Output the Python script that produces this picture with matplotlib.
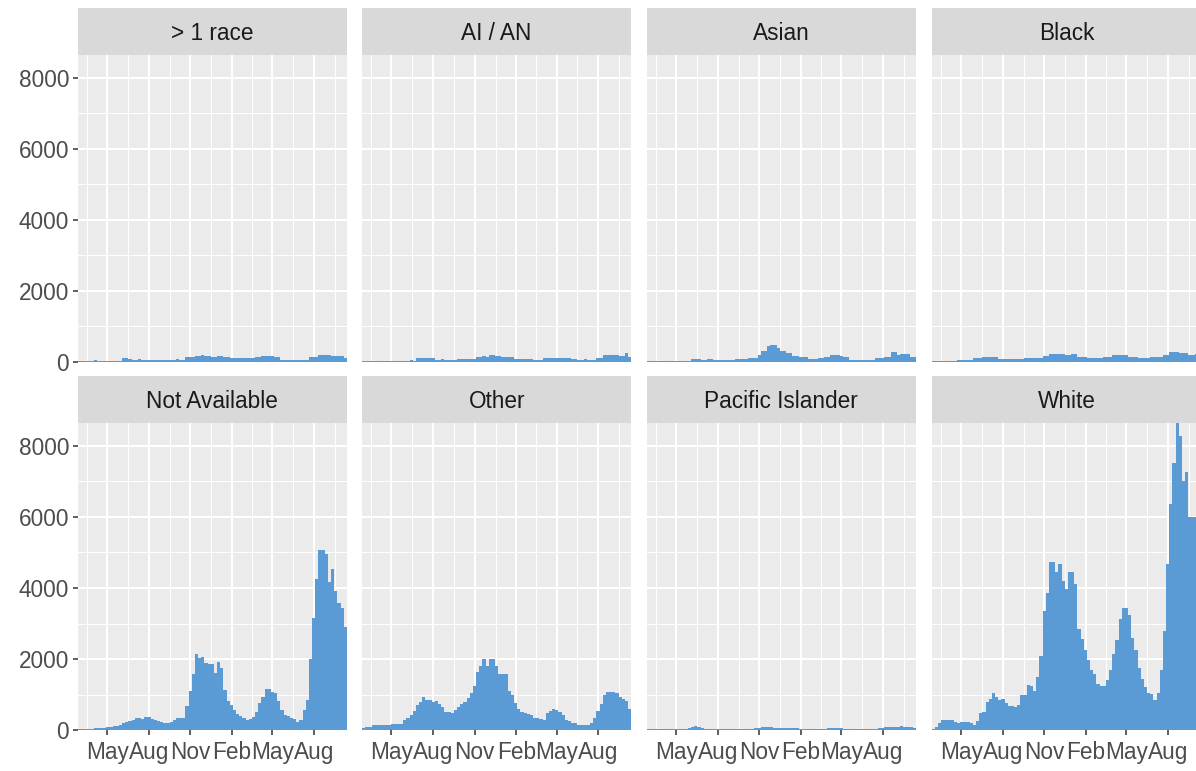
import matplotlib
matplotlib.use("Agg")
import matplotlib.pyplot as plt
import matplotlib.dates as mdates
import pandas as pd

# weekly counts by race, one bar per week starting 2020-02-26
week_start = pd.date_range("2020-02-26", periods=85, freq="7D")

groups = ["> 1 race", "AI / AN", "Asian", "Black",
          "Not Available", "Other", "Pacific Islander", "White"]

multi_race = [20, 20, 25, 20, 25, 50, 30, 30, 35, 30, 30, 35, 30, 30, 110, 110, 75, 70, 70,
              75, 70, 70, 65, 50, 50, 55, 50, 50, 55, 50, 70, 75, 70, 70, 130, 130, 140,
              180, 180, 210, 180, 180, 150, 150, 180, 180, 130, 130, 100, 100, 105, 100,
              100, 100, 105, 100, 130, 130, 170, 170, 175, 170, 130, 130, 70, 70, 70, 50,
              50, 50, 55, 50, 50, 130, 130, 135, 200, 200, 205, 200, 170, 170, 180, 180, 100]

ai_an = [20, 20, 20, 20, 25, 20, 20, 20, 20, 25, 20, 20, 20, 40, 40, 45, 40, 100, 100, 105,
         120, 120, 115, 70, 70, 75, 70, 70, 70, 70, 90, 90, 95, 90, 90, 90, 150, 150, 155,
         150, 200, 200, 170, 170, 130, 130, 135, 130, 90, 90, 95, 90, 90, 90, 70, 70, 70,
         100, 100, 105, 100, 110, 110, 115, 110, 110, 90, 90, 70, 70, 75, 70, 70, 70, 110,
         110, 200, 200, 205, 200, 200, 170, 170, 250, 150]

asian = [30, 30, 30, 35, 30, 30, 30, 35, 30, 30, 20, 20, 20, 20, 80, 80, 85, 60, 60, 90,
         90, 60, 60, 60, 65, 60, 60, 60, 90, 90, 95, 90, 100, 100, 100, 200, 300, 300,
         455, 485, 485, 405, 300, 300, 250, 250, 180, 180, 130, 130, 130, 80, 80, 80,
         100, 100, 150, 150, 200, 200, 205, 170, 130, 130, 70, 70, 50, 50, 50, 55, 50,
         50, 100, 100, 100, 150, 150, 270, 270, 200, 220, 220, 230, 150, 150]

black = [30, 30, 30, 35, 30, 30, 30, 30, 50, 50, 55, 50, 50, 100, 100, 100, 130, 130, 135,
         130, 130, 90, 90, 95, 90, 90, 90, 95, 90, 110, 110, 115, 110, 110, 110, 170, 170,
         230, 230, 235, 230, 230, 200, 200, 220, 220, 150, 150, 150, 100, 100, 105, 100,
         100, 130, 130, 130, 200, 200, 205, 200, 200, 150, 150, 150, 100, 100, 105, 100,
         130, 130, 135, 130, 200, 200, 270, 270, 270, 250, 250, 250, 210, 210, 215, 210]

not_available = [40, 40, 40, 45, 45, 50, 55, 60, 70, 90, 100, 110, 130, 150, 190, 220, 260,
                 290, 350, 330, 320, 360, 370, 310, 300, 270, 220, 200, 210, 240, 290, 340,
                 350, 330, 670, 1100, 1580, 2150, 2040, 2060, 1900, 1870, 1870, 1600, 1920,
                 1760, 1120, 810, 720, 580, 450, 410, 330, 300, 320, 370, 510, 770, 920,
                 1170, 1170, 1080, 1050, 810, 560, 420, 390, 330, 310, 230, 300, 560, 860,
                 2000, 3150, 4260, 5080, 5080, 4960, 4160, 4540, 3910, 3570, 3430, 2900]

other = [50, 90, 100, 140, 140, 140, 145, 150, 160, 180, 180, 180, 185, 300, 355, 420, 530,
         700, 780, 920, 860, 860, 800, 815, 730, 660, 520, 500, 480, 580, 650, 730, 800,
         900, 1050, 1230, 1640, 1800, 1990, 1820, 1990, 1990, 1820, 1590, 1590, 1590, 1100,
         980, 760, 610, 500, 470, 450, 440, 345, 330, 320, 290, 470, 530, 610, 560, 500,
         420, 300, 260, 205, 190, 160, 140, 150, 160, 210, 330, 530, 750, 1000, 1080, 1080,
         1080, 1050, 935, 890, 815, 610]

pacific = [20, 20, 25, 20, 25, 30, 30, 30, 35, 30, 30, 35, 40, 60, 90, 120, 90, 60, 40, 40,
           40, 45, 40, 40, 40, 40, 45, 40, 40, 40, 40, 45, 40, 40, 50, 60, 80, 90, 90, 80,
           70, 60, 60, 60, 75, 75, 70, 50, 40, 40, 40, 45, 40, 40, 40, 40, 45, 50, 70, 75,
           70, 60, 40, 40, 40, 45, 40, 40, 40, 40, 40, 45, 40, 50, 70, 80, 80, 85, 80, 90,
           110, 90, 80, 80, 70]

white = [47, 100, 200, 280, 300, 300, 280, 225, 215, 220, 225, 225, 190, 140, 260, 490, 515,
         780, 890, 1060, 935, 860, 880, 770, 690, 675, 655, 700, 1000, 1000, 1260, 1230,
         1100, 1500, 2100, 3350, 3850, 4720, 4720, 4450, 4680, 4200, 3980, 4440, 4440, 4100,
         2850, 2570, 2270, 1980, 1680, 1590, 1310, 1235, 1250, 1400, 1680, 2130, 2545, 3115,
         3430, 3430, 3240, 2590, 2245, 1750, 1440, 1215, 1050, 1010, 840, 1060, 1680, 2790,
         4680, 6360, 7510, 8630, 8280, 7000, 7270, 6010, 6010, 6010, 6010]

series = [multi_race, ai_an, asian, black, not_available, other, pacific, white]

tick_dates = ["2020-05-01", "2020-08-01", "2020-11-01", "2021-02-01", "2021-05-01", "2021-08-01"]
tick_labels = ["May", "Aug", "Nov", "Feb", "May", "Aug"]
y_ticks = [0, 2000, 4000, 6000, 8000]

W, H = 1196, 771
fig = plt.figure(figsize=(W / 100, H / 100), dpi=100)
plt.rcParams['font.family'] = ['Liberation Sans', 'DejaVu Sans']

bar_col = "#5B9BD5"
txt_col = "#4D4D4D"
fsize = 16.3

# panel layout in pixels (ggplot facet_wrap look)
col_left = [77.7, 362.0, 646.7, 931.7]
row_top = [54.5, 422.7]
panel_w, panel_h = 269.3, 307.5
strip_h = 46.5

x = mdates.date2num(week_start.to_pydatetime())
xmin, xmax = x[0], x[-1] + 7
majors = mdates.date2num(pd.to_datetime(tick_dates).to_pydatetime())
edges = [majors[0] - 90] + list(majors) + [majors[-1] + 92]
minors = [(a + b) / 2 for a, b in zip(edges[:-1], edges[1:])]


def px_box(left, top, w, h):
    return [left / W, 1 - (top + h) / H, w / W, h / H]


for i, (name, vals) in enumerate(zip(groups, series)):
    r, c = divmod(i, 4)
    ax = fig.add_axes(px_box(col_left[c], row_top[r], panel_w, panel_h))
    ax.set_facecolor("#EBEBEB")
    ax.bar(x, vals, width=7, align="edge", color=bar_col, linewidth=0)
    ax.set_xlim(xmin, xmax)
    ax.set_ylim(0, 8650)

    ax.set_xticks(majors)
    ax.set_xticks(minors, minor=True)
    ax.set_yticks(y_ticks)
    ax.set_yticks([1000, 3000, 5000, 7000], minor=True)
    ax.grid(which="major", color="white", linewidth=1.5)
    ax.grid(which="minor", color="white", linewidth=0.7)
    ax.set_axisbelow(True)
    for s in ax.spines.values():
        s.set_visible(False)

    ax.tick_params(which="minor", length=0)
    ax.tick_params(which="major", length=3.6, width=1.1, color="#333333",
                   labelcolor=txt_col, labelsize=fsize, pad=2.5)
    ax.tick_params(axis="x", pad=4.5)
    if c == 0:
        ax.set_yticklabels([str(v) for v in y_ticks])
    else:
        ax.tick_params(axis="y", length=0, labelleft=False)
    if r == 1:
        ax.set_xticklabels(tick_labels)
    else:
        ax.tick_params(axis="x", length=0, labelbottom=False)

    # strip on top of panel
    st = fig.add_axes(px_box(col_left[c], row_top[r] - strip_h, panel_w, strip_h))
    st.set_facecolor("#D9D9D9")
    st.set_xticks([])
    st.set_yticks([])
    for s in st.spines.values():
        s.set_visible(False)
    st.text(0.5, 0.46, name, ha="center", va="center", fontsize=fsize, color="#1A1A1A",
            transform=st.transAxes)

fig.savefig("out.png", dpi=100)
